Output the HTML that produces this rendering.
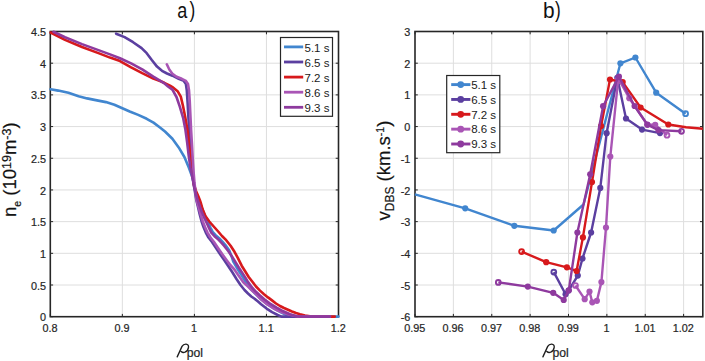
<!DOCTYPE html><html><head><meta charset="utf-8"><style>html,body{margin:0;padding:0;background:#fff;overflow:hidden;width:705px;height:361px;}svg{display:block;}text{font-family:"Liberation Sans",sans-serif;stroke:#262626;stroke-width:0.22px;}</style></head><body>
<svg width="705" height="361" viewBox="0 0 705 361">
<rect width="705" height="361" fill="#fff"/>
<line x1="122.35" y1="31.5" x2="122.35" y2="316.7" stroke="#dedede" stroke-width="1"/>
<line x1="194.40" y1="31.5" x2="194.40" y2="316.7" stroke="#dedede" stroke-width="1"/>
<line x1="266.45" y1="31.5" x2="266.45" y2="316.7" stroke="#dedede" stroke-width="1"/>
<line x1="50.3" y1="285.01" x2="338.5" y2="285.01" stroke="#dedede" stroke-width="1"/>
<line x1="50.3" y1="253.32" x2="338.5" y2="253.32" stroke="#dedede" stroke-width="1"/>
<line x1="50.3" y1="221.63" x2="338.5" y2="221.63" stroke="#dedede" stroke-width="1"/>
<line x1="50.3" y1="189.94" x2="338.5" y2="189.94" stroke="#dedede" stroke-width="1"/>
<line x1="50.3" y1="158.26" x2="338.5" y2="158.26" stroke="#dedede" stroke-width="1"/>
<line x1="50.3" y1="126.57" x2="338.5" y2="126.57" stroke="#dedede" stroke-width="1"/>
<line x1="50.3" y1="94.88" x2="338.5" y2="94.88" stroke="#dedede" stroke-width="1"/>
<line x1="50.3" y1="63.19" x2="338.5" y2="63.19" stroke="#dedede" stroke-width="1"/>
<line x1="50.3" y1="31.50" x2="338.5" y2="31.50" stroke="#dedede" stroke-width="1"/>
<line x1="453.37" y1="31.5" x2="453.37" y2="316.7" stroke="#dedede" stroke-width="1"/>
<line x1="491.75" y1="31.5" x2="491.75" y2="316.7" stroke="#dedede" stroke-width="1"/>
<line x1="530.12" y1="31.5" x2="530.12" y2="316.7" stroke="#dedede" stroke-width="1"/>
<line x1="568.49" y1="31.5" x2="568.49" y2="316.7" stroke="#dedede" stroke-width="1"/>
<line x1="606.87" y1="31.5" x2="606.87" y2="316.7" stroke="#dedede" stroke-width="1"/>
<line x1="645.24" y1="31.5" x2="645.24" y2="316.7" stroke="#dedede" stroke-width="1"/>
<line x1="683.61" y1="31.5" x2="683.61" y2="316.7" stroke="#dedede" stroke-width="1"/>
<line x1="415.0" y1="285.01" x2="702.8" y2="285.01" stroke="#dedede" stroke-width="1"/>
<line x1="415.0" y1="253.32" x2="702.8" y2="253.32" stroke="#dedede" stroke-width="1"/>
<line x1="415.0" y1="221.63" x2="702.8" y2="221.63" stroke="#dedede" stroke-width="1"/>
<line x1="415.0" y1="189.94" x2="702.8" y2="189.94" stroke="#dedede" stroke-width="1"/>
<line x1="415.0" y1="158.26" x2="702.8" y2="158.26" stroke="#dedede" stroke-width="1"/>
<line x1="415.0" y1="126.57" x2="702.8" y2="126.57" stroke="#dedede" stroke-width="1"/>
<line x1="415.0" y1="94.88" x2="702.8" y2="94.88" stroke="#dedede" stroke-width="1"/>
<line x1="415.0" y1="63.19" x2="702.8" y2="63.19" stroke="#dedede" stroke-width="1"/>
<line x1="50.30" y1="316.7" x2="50.30" y2="313.9" stroke="#262626" stroke-width="1"/>
<line x1="50.30" y1="31.5" x2="50.30" y2="34.3" stroke="#262626" stroke-width="1"/>
<line x1="122.35" y1="316.7" x2="122.35" y2="313.9" stroke="#262626" stroke-width="1"/>
<line x1="122.35" y1="31.5" x2="122.35" y2="34.3" stroke="#262626" stroke-width="1"/>
<line x1="194.40" y1="316.7" x2="194.40" y2="313.9" stroke="#262626" stroke-width="1"/>
<line x1="194.40" y1="31.5" x2="194.40" y2="34.3" stroke="#262626" stroke-width="1"/>
<line x1="266.45" y1="316.7" x2="266.45" y2="313.9" stroke="#262626" stroke-width="1"/>
<line x1="266.45" y1="31.5" x2="266.45" y2="34.3" stroke="#262626" stroke-width="1"/>
<line x1="338.50" y1="316.7" x2="338.50" y2="313.9" stroke="#262626" stroke-width="1"/>
<line x1="338.50" y1="31.5" x2="338.50" y2="34.3" stroke="#262626" stroke-width="1"/>
<line x1="50.3" y1="316.70" x2="53.099999999999994" y2="316.70" stroke="#262626" stroke-width="1"/>
<line x1="338.5" y1="316.70" x2="335.7" y2="316.70" stroke="#262626" stroke-width="1"/>
<line x1="50.3" y1="285.01" x2="53.099999999999994" y2="285.01" stroke="#262626" stroke-width="1"/>
<line x1="338.5" y1="285.01" x2="335.7" y2="285.01" stroke="#262626" stroke-width="1"/>
<line x1="50.3" y1="253.32" x2="53.099999999999994" y2="253.32" stroke="#262626" stroke-width="1"/>
<line x1="338.5" y1="253.32" x2="335.7" y2="253.32" stroke="#262626" stroke-width="1"/>
<line x1="50.3" y1="221.63" x2="53.099999999999994" y2="221.63" stroke="#262626" stroke-width="1"/>
<line x1="338.5" y1="221.63" x2="335.7" y2="221.63" stroke="#262626" stroke-width="1"/>
<line x1="50.3" y1="189.94" x2="53.099999999999994" y2="189.94" stroke="#262626" stroke-width="1"/>
<line x1="338.5" y1="189.94" x2="335.7" y2="189.94" stroke="#262626" stroke-width="1"/>
<line x1="50.3" y1="158.26" x2="53.099999999999994" y2="158.26" stroke="#262626" stroke-width="1"/>
<line x1="338.5" y1="158.26" x2="335.7" y2="158.26" stroke="#262626" stroke-width="1"/>
<line x1="50.3" y1="126.57" x2="53.099999999999994" y2="126.57" stroke="#262626" stroke-width="1"/>
<line x1="338.5" y1="126.57" x2="335.7" y2="126.57" stroke="#262626" stroke-width="1"/>
<line x1="50.3" y1="94.88" x2="53.099999999999994" y2="94.88" stroke="#262626" stroke-width="1"/>
<line x1="338.5" y1="94.88" x2="335.7" y2="94.88" stroke="#262626" stroke-width="1"/>
<line x1="50.3" y1="63.19" x2="53.099999999999994" y2="63.19" stroke="#262626" stroke-width="1"/>
<line x1="338.5" y1="63.19" x2="335.7" y2="63.19" stroke="#262626" stroke-width="1"/>
<line x1="50.3" y1="31.50" x2="53.099999999999994" y2="31.50" stroke="#262626" stroke-width="1"/>
<line x1="338.5" y1="31.50" x2="335.7" y2="31.50" stroke="#262626" stroke-width="1"/>
<rect x="50.3" y="31.5" width="288.20" height="285.20" fill="none" stroke="#262626" stroke-width="1.6"/>
<line x1="415.00" y1="316.7" x2="415.00" y2="313.9" stroke="#262626" stroke-width="1"/>
<line x1="415.00" y1="31.5" x2="415.00" y2="34.3" stroke="#262626" stroke-width="1"/>
<line x1="453.37" y1="316.7" x2="453.37" y2="313.9" stroke="#262626" stroke-width="1"/>
<line x1="453.37" y1="31.5" x2="453.37" y2="34.3" stroke="#262626" stroke-width="1"/>
<line x1="491.75" y1="316.7" x2="491.75" y2="313.9" stroke="#262626" stroke-width="1"/>
<line x1="491.75" y1="31.5" x2="491.75" y2="34.3" stroke="#262626" stroke-width="1"/>
<line x1="530.12" y1="316.7" x2="530.12" y2="313.9" stroke="#262626" stroke-width="1"/>
<line x1="530.12" y1="31.5" x2="530.12" y2="34.3" stroke="#262626" stroke-width="1"/>
<line x1="568.49" y1="316.7" x2="568.49" y2="313.9" stroke="#262626" stroke-width="1"/>
<line x1="568.49" y1="31.5" x2="568.49" y2="34.3" stroke="#262626" stroke-width="1"/>
<line x1="606.87" y1="316.7" x2="606.87" y2="313.9" stroke="#262626" stroke-width="1"/>
<line x1="606.87" y1="31.5" x2="606.87" y2="34.3" stroke="#262626" stroke-width="1"/>
<line x1="645.24" y1="316.7" x2="645.24" y2="313.9" stroke="#262626" stroke-width="1"/>
<line x1="645.24" y1="31.5" x2="645.24" y2="34.3" stroke="#262626" stroke-width="1"/>
<line x1="683.61" y1="316.7" x2="683.61" y2="313.9" stroke="#262626" stroke-width="1"/>
<line x1="683.61" y1="31.5" x2="683.61" y2="34.3" stroke="#262626" stroke-width="1"/>
<line x1="415.0" y1="316.70" x2="417.8" y2="316.70" stroke="#262626" stroke-width="1"/>
<line x1="702.8" y1="316.70" x2="700.0" y2="316.70" stroke="#262626" stroke-width="1"/>
<line x1="415.0" y1="285.01" x2="417.8" y2="285.01" stroke="#262626" stroke-width="1"/>
<line x1="702.8" y1="285.01" x2="700.0" y2="285.01" stroke="#262626" stroke-width="1"/>
<line x1="415.0" y1="253.32" x2="417.8" y2="253.32" stroke="#262626" stroke-width="1"/>
<line x1="702.8" y1="253.32" x2="700.0" y2="253.32" stroke="#262626" stroke-width="1"/>
<line x1="415.0" y1="221.63" x2="417.8" y2="221.63" stroke="#262626" stroke-width="1"/>
<line x1="702.8" y1="221.63" x2="700.0" y2="221.63" stroke="#262626" stroke-width="1"/>
<line x1="415.0" y1="189.94" x2="417.8" y2="189.94" stroke="#262626" stroke-width="1"/>
<line x1="702.8" y1="189.94" x2="700.0" y2="189.94" stroke="#262626" stroke-width="1"/>
<line x1="415.0" y1="158.26" x2="417.8" y2="158.26" stroke="#262626" stroke-width="1"/>
<line x1="702.8" y1="158.26" x2="700.0" y2="158.26" stroke="#262626" stroke-width="1"/>
<line x1="415.0" y1="126.57" x2="417.8" y2="126.57" stroke="#262626" stroke-width="1"/>
<line x1="702.8" y1="126.57" x2="700.0" y2="126.57" stroke="#262626" stroke-width="1"/>
<line x1="415.0" y1="94.88" x2="417.8" y2="94.88" stroke="#262626" stroke-width="1"/>
<line x1="702.8" y1="94.88" x2="700.0" y2="94.88" stroke="#262626" stroke-width="1"/>
<line x1="415.0" y1="63.19" x2="417.8" y2="63.19" stroke="#262626" stroke-width="1"/>
<line x1="702.8" y1="63.19" x2="700.0" y2="63.19" stroke="#262626" stroke-width="1"/>
<line x1="415.0" y1="31.50" x2="417.8" y2="31.50" stroke="#262626" stroke-width="1"/>
<line x1="702.8" y1="31.50" x2="700.0" y2="31.50" stroke="#262626" stroke-width="1"/>
<rect x="415.0" y="31.5" width="287.80" height="285.20" fill="none" stroke="#262626" stroke-width="1.6"/>
<defs><clipPath id="cl"><rect x="49" y="30" width="291" height="288"/></clipPath><clipPath id="cr"><rect x="413.5" y="30" width="289.3" height="288"/></clipPath></defs>
<g clip-path="url(#cl)">
<polyline points="50.5,89.2 58.2,90.6 68.4,92.8 78.6,96.2 87.1,98.4 95.7,100.1 105.9,102.1 114.4,104.7 121.2,107.7 129.7,111.5 138.2,114.9 146.7,118.8 153.5,122.6 160.3,127.7 165.0,131.5 172.4,138.7 178.7,147.4 184.4,157.0 188.9,167.8 192.2,176.7 194.4,185.6 196.2,195.0 198.9,200.7 201.4,206.5 203.2,211.5 204.9,215.4 206.6,219.2 208.7,223.6 210.4,227.5 212.6,231.8 215.6,235.1 219.4,238.5 222.4,241.6 225.2,244.8 229.3,250.6 231.6,256.4 233.3,261.6 237.4,268.7 241.7,275.4 246.1,282.5 250.5,288.7 254.7,293.1 258.7,296.9 263.4,301.0 268.9,305.2 275.6,309.3 282.4,313.1 289.3,316.2 296.1,316.6 300.0,316.6 338.5,316.6" fill="none" stroke="#4186cf" stroke-width="2.6" stroke-linejoin="round" stroke-linecap="round"/>
<polyline points="116.1,33.7 124.6,37.1 133.1,42.2 141.6,48.1 146.7,53.2 151.8,60.0 157.0,66.6 162.0,70.8 167.0,73.5 172.4,75.7 178.7,78.8 183.8,80.9 185.9,84.0 186.8,90.3 187.6,102.7 188.4,117.2 189.2,130.0 190.0,145.0 191.0,160.0 192.2,172.0 193.5,183.0 196.3,200.0 198.0,207.0 199.6,214.0 201.6,221.5 203.5,227.0 205.8,232.6 208.5,237.5 212.0,242.0 216.0,248.0 220.3,254.5 224.5,260.5 228.5,266.5 232.5,272.5 236.5,279.0 240.5,285.0 244.5,290.0 248.0,293.5 251.3,296.5 254.6,298.8 258.0,301.6 261.1,304.3 266.6,308.6 272.1,312.2 277.7,315.0 281.5,316.6 330.0,316.6" fill="none" stroke="#5b3fa0" stroke-width="2.6" stroke-linejoin="round" stroke-linecap="round"/>
<polyline points="50.6,32.5 65.0,39.9 82.0,47.0 99.1,53.4 110.0,57.6 120.0,61.1 131.1,67.4 142.2,73.2 153.3,78.6 160.0,81.0 164.3,82.8 170.0,85.6 172.4,87.1 177.6,91.2 180.8,96.6 183.0,106.0 185.3,117.5 187.6,131.0 189.3,146.7 190.9,160.0 192.5,172.0 194.0,185.0 196.0,191.0 198.0,195.5 199.8,200.0 201.0,203.5 202.6,209.3 205.4,216.0 209.3,221.5 213.7,226.5 218.2,231.5 222.0,236.0 226.2,240.2 230.6,245.7 234.5,251.8 237.8,257.9 241.7,265.7 245.3,271.5 248.7,277.0 252.0,281.3 256.0,286.5 260.0,290.6 264.0,294.2 268.0,297.4 272.0,300.4 276.0,303.5 280.0,306.0 284.0,308.0 288.0,309.8 292.0,311.5 296.0,313.0 300.0,314.2 305.0,315.5 310.0,316.4 334.8,316.6" fill="none" stroke="#d7191c" stroke-width="2.6" stroke-linejoin="round" stroke-linecap="round"/>
<polyline points="166.8,64.3 169.3,69.5 172.4,73.7 176.6,76.8 181.8,78.8 185.9,80.9 188.0,84.0 189.0,90.3 189.7,100.6 190.5,117.2 191.1,130.0 192.0,145.0 192.8,160.0 193.6,172.0 194.5,183.0 196.5,200.0 198.5,207.0 200.5,214.0 202.8,221.5 205.0,227.0 207.5,232.6 210.5,237.5 214.0,242.0 218.0,248.0 222.5,254.5 226.5,260.0 230.3,265.0 234.4,269.5 238.9,276.0 243.3,282.3 248.0,286.5 252.0,290.5 256.0,294.0 261.1,299.5 266.6,304.0 272.1,307.5 277.7,310.5 283.2,312.8 288.8,314.5 294.3,315.8 298.0,316.6 330.0,316.6" fill="none" stroke="#a955b5" stroke-width="2.6" stroke-linejoin="round" stroke-linecap="round"/>
<polyline points="53.5,31.8 65.0,37.2 82.0,44.1 99.1,50.4 110.0,54.4 120.0,58.3 131.1,63.4 142.2,69.4 153.3,76.6 160.0,80.7 164.3,83.3 168.0,86.5 172.4,89.6 176.5,97.0 179.8,106.7 183.1,117.8 185.3,128.9 187.1,142.2 188.7,155.6 190.5,168.0 192.5,178.0 194.4,188.0 196.2,195.0 198.0,201.0 200.0,207.0 201.8,212.0 203.5,216.0 205.2,219.8 207.3,224.2 209.1,228.1 211.3,232.6 214.5,236.2 218.4,239.6 221.3,242.6 224.0,245.7 228.4,251.3 231.8,256.3 234.6,260.8 238.9,267.7 243.3,274.4 247.7,281.5 252.0,287.5 256.0,291.8 260.0,295.5 264.6,299.5 270.0,303.6 276.6,307.6 283.3,311.3 290.0,314.3 296.6,316.2 300.0,316.6 330.0,316.6" fill="none" stroke="#8e3a9e" stroke-width="2.6" stroke-linejoin="round" stroke-linecap="round"/>
</g><g clip-path="url(#cr)">
<polyline points="414.9,194.3 465.2,208.3 514.3,225.8 553.7,230.5 583.5,204.5 620.4,63.3 635.4,57.5 656.2,92.7 685.6,113.7" fill="none" stroke="#4186cf" stroke-width="2.4" stroke-linejoin="round" stroke-linecap="butt"/>
<circle cx="465.2" cy="208.3" r="3.1" fill="#4186cf"/><circle cx="514.3" cy="225.8" r="3.1" fill="#4186cf"/><circle cx="553.7" cy="230.5" r="3.1" fill="#4186cf"/><circle cx="620.4" cy="63.3" r="3.1" fill="#4186cf"/><circle cx="635.4" cy="57.5" r="3.1" fill="#4186cf"/><circle cx="656.2" cy="92.7" r="3.1" fill="#4186cf"/><circle cx="685.6" cy="113.7" r="2.4" fill="none" stroke="#4186cf" stroke-width="1.9"/>
<polyline points="553.8,272.1 565.6,294.2 568.6,290.5 577.8,275.6 582.5,258.5 591.1,232.5 600.3,187.9 606.6,133.2 617.3,77.8 626.0,118.5 642.0,129.6 660.0,133.1" fill="none" stroke="#5b3fa0" stroke-width="2.4" stroke-linejoin="round" stroke-linecap="butt"/>
<circle cx="553.8" cy="272.1" r="2.4" fill="none" stroke="#5b3fa0" stroke-width="1.9"/><circle cx="565.6" cy="294.2" r="3.1" fill="#5b3fa0"/><circle cx="568.6" cy="290.5" r="3.1" fill="#5b3fa0"/><circle cx="577.8" cy="275.6" r="3.1" fill="#5b3fa0"/><circle cx="582.5" cy="258.5" r="3.1" fill="#5b3fa0"/><circle cx="591.1" cy="232.5" r="3.1" fill="#5b3fa0"/><circle cx="600.3" cy="187.9" r="3.1" fill="#5b3fa0"/><circle cx="606.6" cy="133.2" r="3.1" fill="#5b3fa0"/><circle cx="617.3" cy="77.8" r="3.1" fill="#5b3fa0"/><circle cx="626.0" cy="118.5" r="3.1" fill="#5b3fa0"/><circle cx="642.0" cy="129.6" r="3.1" fill="#5b3fa0"/><circle cx="660.0" cy="133.1" r="3.1" fill="#5b3fa0"/>
<polyline points="521.6,251.6 546.2,262.2 566.9,267.3 576.6,271.0 582.9,237.4 592.0,182.1 601.1,126.0 610.0,79.5 622.7,82.1 640.6,107.5 668.3,124.5 686.0,127.3 703.2,128.8" fill="none" stroke="#d7191c" stroke-width="2.4" stroke-linejoin="round" stroke-linecap="butt"/>
<circle cx="521.6" cy="251.6" r="2.4" fill="none" stroke="#d7191c" stroke-width="1.9"/><circle cx="546.2" cy="262.2" r="3.1" fill="#d7191c"/><circle cx="566.9" cy="267.3" r="3.1" fill="#d7191c"/><circle cx="576.6" cy="271.0" r="3.1" fill="#d7191c"/><circle cx="582.9" cy="237.4" r="3.1" fill="#d7191c"/><circle cx="592.0" cy="182.1" r="3.1" fill="#d7191c"/><circle cx="601.1" cy="126.0" r="3.1" fill="#d7191c"/><circle cx="610.0" cy="79.5" r="3.1" fill="#d7191c"/><circle cx="622.7" cy="82.1" r="3.1" fill="#d7191c"/><circle cx="640.6" cy="107.5" r="3.1" fill="#d7191c"/><circle cx="668.3" cy="124.5" r="3.1" fill="#d7191c"/>
<polyline points="575.5,285.5 584.7,299.2 589.5,291.6 592.3,302.3 596.9,300.8 601.4,282.1 606.0,227.5 610.3,156.6 618.3,78.5 629.3,98.2 647.5,124.8 655.2,124.8 667.0,135.2" fill="none" stroke="#a955b5" stroke-width="2.4" stroke-linejoin="round" stroke-linecap="butt"/>
<circle cx="575.5" cy="285.5" r="2.4" fill="none" stroke="#a955b5" stroke-width="1.9"/><circle cx="584.7" cy="299.2" r="3.1" fill="#a955b5"/><circle cx="589.5" cy="291.6" r="3.1" fill="#a955b5"/><circle cx="592.3" cy="302.3" r="3.1" fill="#a955b5"/><circle cx="596.9" cy="300.8" r="3.1" fill="#a955b5"/><circle cx="601.4" cy="282.1" r="3.1" fill="#a955b5"/><circle cx="606.0" cy="227.5" r="3.1" fill="#a955b5"/><circle cx="610.3" cy="156.6" r="3.1" fill="#a955b5"/><circle cx="618.3" cy="78.5" r="3.1" fill="#a955b5"/><circle cx="629.3" cy="98.2" r="3.1" fill="#a955b5"/><circle cx="647.5" cy="124.8" r="3.1" fill="#a955b5"/><circle cx="655.2" cy="124.8" r="3.1" fill="#a955b5"/><circle cx="667.0" cy="135.2" r="2.4" fill="none" stroke="#a955b5" stroke-width="1.9"/>
<polyline points="498.3,282.4 527.8,286.6 553.2,292.8 563.7,300.0 568.8,290.3 577.4,232.5 590.2,174.3 603.1,106.2 618.9,76.6 634.6,106.0 647.3,124.6 658.4,130.1 681.5,131.3" fill="none" stroke="#8e3a9e" stroke-width="2.4" stroke-linejoin="round" stroke-linecap="butt"/>
<circle cx="498.3" cy="282.4" r="2.4" fill="none" stroke="#8e3a9e" stroke-width="1.9"/><circle cx="527.8" cy="286.6" r="3.1" fill="#8e3a9e"/><circle cx="553.2" cy="292.8" r="3.1" fill="#8e3a9e"/><circle cx="563.7" cy="300.0" r="3.1" fill="#8e3a9e"/><circle cx="568.8" cy="290.3" r="3.1" fill="#8e3a9e"/><circle cx="577.4" cy="232.5" r="3.1" fill="#8e3a9e"/><circle cx="590.2" cy="174.3" r="3.1" fill="#8e3a9e"/><circle cx="603.1" cy="106.2" r="3.1" fill="#8e3a9e"/><circle cx="618.9" cy="76.6" r="3.1" fill="#8e3a9e"/><circle cx="634.6" cy="106.0" r="3.1" fill="#8e3a9e"/><circle cx="647.3" cy="124.6" r="3.1" fill="#8e3a9e"/><circle cx="658.4" cy="130.1" r="3.1" fill="#8e3a9e"/><circle cx="681.5" cy="131.3" r="2.4" fill="none" stroke="#8e3a9e" stroke-width="1.9"/>
</g>
<text transform="translate(50.00,331.9) scale(0.92,1)" font-size="11.8" text-anchor="middle" fill="#262626">0.8</text>
<text transform="translate(122.05,331.9) scale(0.92,1)" font-size="11.8" text-anchor="middle" fill="#262626">0.9</text>
<text transform="translate(194.10,331.9) scale(0.92,1)" font-size="11.8" text-anchor="middle" fill="#262626">1</text>
<text transform="translate(266.15,331.9) scale(0.92,1)" font-size="11.8" text-anchor="middle" fill="#262626">1.1</text>
<text transform="translate(338.20,331.9) scale(0.92,1)" font-size="11.8" text-anchor="middle" fill="#262626">1.2</text>
<text transform="translate(46.1,321.30) scale(0.92,1)" font-size="11.8" text-anchor="end" fill="#262626">0</text>
<text transform="translate(46.1,289.61) scale(0.92,1)" font-size="11.8" text-anchor="end" fill="#262626">0.5</text>
<text transform="translate(46.1,257.92) scale(0.92,1)" font-size="11.8" text-anchor="end" fill="#262626">1</text>
<text transform="translate(46.1,226.23) scale(0.92,1)" font-size="11.8" text-anchor="end" fill="#262626">1.5</text>
<text transform="translate(46.1,194.54) scale(0.92,1)" font-size="11.8" text-anchor="end" fill="#262626">2</text>
<text transform="translate(46.1,162.86) scale(0.92,1)" font-size="11.8" text-anchor="end" fill="#262626">2.5</text>
<text transform="translate(46.1,131.17) scale(0.92,1)" font-size="11.8" text-anchor="end" fill="#262626">3</text>
<text transform="translate(46.1,99.48) scale(0.92,1)" font-size="11.8" text-anchor="end" fill="#262626">3.5</text>
<text transform="translate(46.1,67.79) scale(0.92,1)" font-size="11.8" text-anchor="end" fill="#262626">4</text>
<text transform="translate(46.1,36.10) scale(0.92,1)" font-size="11.8" text-anchor="end" fill="#262626">4.5</text>
<text transform="translate(414.70,331.9) scale(0.92,1)" font-size="11.8" text-anchor="middle" fill="#262626">0.95</text>
<text transform="translate(453.07,331.9) scale(0.92,1)" font-size="11.8" text-anchor="middle" fill="#262626">0.96</text>
<text transform="translate(491.45,331.9) scale(0.92,1)" font-size="11.8" text-anchor="middle" fill="#262626">0.97</text>
<text transform="translate(529.82,331.9) scale(0.92,1)" font-size="11.8" text-anchor="middle" fill="#262626">0.98</text>
<text transform="translate(568.19,331.9) scale(0.92,1)" font-size="11.8" text-anchor="middle" fill="#262626">0.99</text>
<text transform="translate(606.57,331.9) scale(0.92,1)" font-size="11.8" text-anchor="middle" fill="#262626">1</text>
<text transform="translate(644.94,331.9) scale(0.92,1)" font-size="11.8" text-anchor="middle" fill="#262626">1.01</text>
<text transform="translate(683.31,331.9) scale(0.92,1)" font-size="11.8" text-anchor="middle" fill="#262626">1.02</text>
<text transform="translate(410.4,321.30) scale(0.92,1)" font-size="11.8" text-anchor="end" fill="#262626">-6</text>
<text transform="translate(410.4,289.61) scale(0.92,1)" font-size="11.8" text-anchor="end" fill="#262626">-5</text>
<text transform="translate(410.4,257.92) scale(0.92,1)" font-size="11.8" text-anchor="end" fill="#262626">-4</text>
<text transform="translate(410.4,226.23) scale(0.92,1)" font-size="11.8" text-anchor="end" fill="#262626">-3</text>
<text transform="translate(410.4,194.54) scale(0.92,1)" font-size="11.8" text-anchor="end" fill="#262626">-2</text>
<text transform="translate(410.4,162.86) scale(0.92,1)" font-size="11.8" text-anchor="end" fill="#262626">-1</text>
<text transform="translate(410.4,131.17) scale(0.92,1)" font-size="11.8" text-anchor="end" fill="#262626">0</text>
<text transform="translate(410.4,99.48) scale(0.92,1)" font-size="11.8" text-anchor="end" fill="#262626">1</text>
<text transform="translate(410.4,67.79) scale(0.92,1)" font-size="11.8" text-anchor="end" fill="#262626">2</text>
<text transform="translate(410.4,36.10) scale(0.92,1)" font-size="11.8" text-anchor="end" fill="#262626">3</text>
<text x="177.2" y="17.9" font-size="22" fill="#111" style="stroke-width:0" transform="translate(177.2,0) scale(0.82,1) translate(-177.2,0)">a</text>
<text x="189.4" y="17.2" font-size="21.5" fill="#111" style="stroke-width:0" transform="translate(189.4,0) scale(0.8,1) translate(-189.4,0)">)</text>
<text x="542.9" y="17.9" font-size="22" fill="#111" style="stroke-width:0" transform="translate(542.9,0) scale(0.95,1) translate(-542.9,0)">b</text>
<text x="554.9" y="17.2" font-size="21.5" fill="#111" style="stroke-width:0" transform="translate(554.9,0) scale(0.8,1) translate(-554.9,0)">)</text>
<g transform="translate(0,0)"><path d="M177.2,356.9 L182.0,346.4 Q183.4,344.0 186.0,344.1 Q188.9,344.4 188.5,347.4 Q188.0,350.9 185.0,352.2 Q182.7,353.0 181.2,351.5" fill="none" stroke="#1e1e1e" stroke-width="1.35" stroke-linecap="round"/>
<text x="186.7" y="356.6" font-size="12.2" fill="#1e1e1e">pol</text></g>
<g transform="translate(365.7,0)"><path d="M177.2,356.9 L182.0,346.4 Q183.4,344.0 186.0,344.1 Q188.9,344.4 188.5,347.4 Q188.0,350.9 185.0,352.2 Q182.7,353.0 181.2,351.5" fill="none" stroke="#1e1e1e" stroke-width="1.35" stroke-linecap="round"/>
<text x="186.7" y="356.6" font-size="12.2" fill="#1e1e1e">pol</text></g>
<text transform="translate(16.4,217) rotate(-90)" font-size="18.5" fill="#111">n<tspan font-size="10.5" dy="4.5">e</tspan><tspan dy="-4.5"> (10</tspan><tspan font-size="12.5" dy="-5">19</tspan><tspan dy="5">m</tspan><tspan font-size="12.5" dy="-5">-3</tspan><tspan dy="5">)</tspan></text>
<text transform="translate(389.9,220.5) rotate(-90)" font-size="18.5" fill="#111">v<tspan font-size="12.0" dy="4.5">DBS</tspan><tspan dy="-4.5"> (km.s</tspan><tspan font-size="10.5" dy="-6">-1</tspan><tspan dy="6">)</tspan></text>
<rect x="280.5" y="37.5" width="52" height="78.8" fill="#fff" stroke="#262626" stroke-width="1.2"/>
<line x1="284" y1="46.90" x2="303.2" y2="46.90" stroke="#4186cf" stroke-width="2.8"/>
<text x="304.5" y="51.90" font-size="11.5" fill="#1a1a1a" style="stroke-width:0">5.1 s</text>
<line x1="284" y1="62.00" x2="303.2" y2="62.00" stroke="#5b3fa0" stroke-width="2.8"/>
<text x="304.5" y="67.00" font-size="11.5" fill="#1a1a1a" style="stroke-width:0">6.5 s</text>
<line x1="284" y1="77.10" x2="303.2" y2="77.10" stroke="#d7191c" stroke-width="2.8"/>
<text x="304.5" y="82.10" font-size="11.5" fill="#1a1a1a" style="stroke-width:0">7.2 s</text>
<line x1="284" y1="92.20" x2="303.2" y2="92.20" stroke="#a955b5" stroke-width="2.8"/>
<text x="304.5" y="97.20" font-size="11.5" fill="#1a1a1a" style="stroke-width:0">8.6 s</text>
<line x1="284" y1="107.30" x2="303.2" y2="107.30" stroke="#8e3a9e" stroke-width="2.8"/>
<text x="304.5" y="112.30" font-size="11.5" fill="#1a1a1a" style="stroke-width:0">9.3 s</text>
<rect x="446.7" y="75.5" width="53.1" height="77.2" fill="#fff" stroke="#262626" stroke-width="1.2"/>
<line x1="451.2" y1="84.60" x2="470.4" y2="84.60" stroke="#4186cf" stroke-width="2.9"/>
<circle cx="460.7" cy="84.60" r="3.4" fill="#4186cf"/>
<text x="471.2" y="88.90" font-size="11.5" fill="#1a1a1a" style="stroke-width:0">5.1 s</text>
<line x1="451.2" y1="99.45" x2="470.4" y2="99.45" stroke="#5b3fa0" stroke-width="2.9"/>
<circle cx="460.7" cy="99.45" r="3.4" fill="#5b3fa0"/>
<text x="471.2" y="103.75" font-size="11.5" fill="#1a1a1a" style="stroke-width:0">6.5 s</text>
<line x1="451.2" y1="114.30" x2="470.4" y2="114.30" stroke="#d7191c" stroke-width="2.9"/>
<circle cx="460.7" cy="114.30" r="3.4" fill="#d7191c"/>
<text x="471.2" y="118.60" font-size="11.5" fill="#1a1a1a" style="stroke-width:0">7.2 s</text>
<line x1="451.2" y1="129.15" x2="470.4" y2="129.15" stroke="#a955b5" stroke-width="2.9"/>
<circle cx="460.7" cy="129.15" r="3.4" fill="#a955b5"/>
<text x="471.2" y="133.45" font-size="11.5" fill="#1a1a1a" style="stroke-width:0">8.6 s</text>
<line x1="451.2" y1="144.00" x2="470.4" y2="144.00" stroke="#8e3a9e" stroke-width="2.9"/>
<circle cx="460.7" cy="144.00" r="3.4" fill="#8e3a9e"/>
<text x="471.2" y="148.30" font-size="11.5" fill="#1a1a1a" style="stroke-width:0">9.3 s</text>
</svg></body></html>
